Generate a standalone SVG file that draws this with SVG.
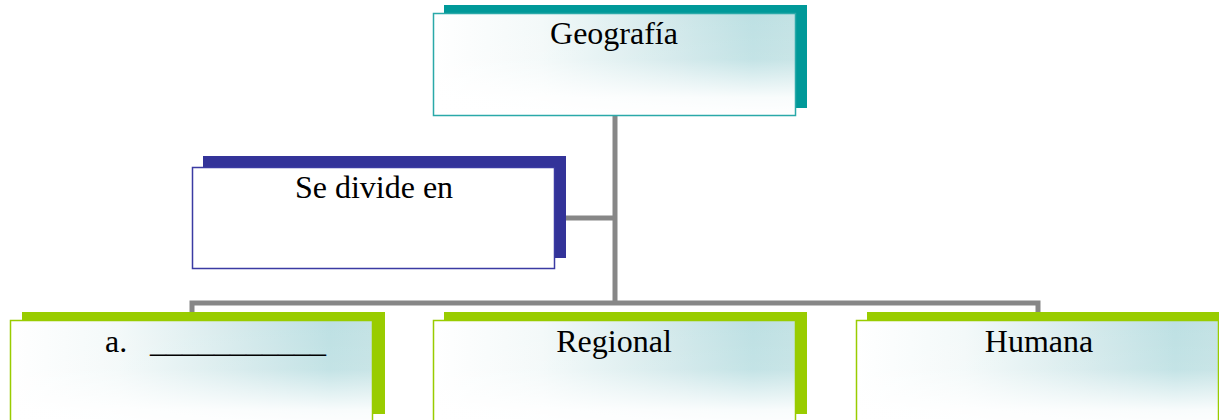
<svg xmlns="http://www.w3.org/2000/svg" width="1219" height="420" viewBox="0 0 1219 420">
<style>
.lbl{font-family:"Liberation Serif","Times New Roman",serif;font-size:32px;fill:#000;}
.conn{stroke:#878787;stroke-width:5;fill:none;}
.frontG{fill:url(#hgrad);}
.fade{fill:url(#vfade);}
</style>
<defs>
<linearGradient id="hgrad" x1="0" y1="0" x2="1" y2="0">
<stop offset="0" stop-color="#ffffff"/>
<stop offset="0.3" stop-color="#f3f9f9"/>
<stop offset="0.65" stop-color="#d3e9eb"/>
<stop offset="0.88" stop-color="#bde0e3"/>
<stop offset="1" stop-color="#c3e2e4"/>
</linearGradient>
<linearGradient id="vfade" x1="0" y1="0" x2="0" y2="1">
<stop offset="0" stop-color="#ffffff" stop-opacity="0"/>
<stop offset="0.45" stop-color="#ffffff" stop-opacity="0.1"/>
<stop offset="0.82" stop-color="#ffffff" stop-opacity="0.9"/>
<stop offset="1" stop-color="#ffffff" stop-opacity="1"/>
</linearGradient>
</defs>
<rect width="1219" height="420" fill="#ffffff"/>
<g id="connectors">
<path class="conn" d="M615 116 V303"/>
<path class="conn" d="M566 218 H615"/>
<path class="conn" d="M192 315 V303 H1038 V315"/>
</g>
<g id="node-geografia">
<rect x="444" y="5" width="363" height="103" fill="#009999"/>
<rect x="433" y="13" width="363" height="103" class="frontG"/>
<rect x="433" y="13" width="363" height="103" class="fade"/>
<rect x="433.5" y="13.5" width="362" height="102" fill="none" stroke="#2aa9a9" stroke-width="1.5"/>
<text class="lbl" x="614" y="44" text-anchor="middle">Geografía</text>
</g>
<g id="node-divide">
<rect x="203" y="156" width="363" height="102" fill="#333399"/>
<rect x="192.5" y="167.5" width="362" height="101" fill="#ffffff" stroke="#3b3ba3" stroke-width="1.5"/>
<text class="lbl" x="374" y="198" text-anchor="middle">Se divide en</text>
</g>
<g id="node-a">
<rect x="22" y="312" width="363" height="102" fill="#99cc00"/>
<rect x="10" y="320" width="363" height="110" class="frontG"/>
<rect x="10" y="320" width="363" height="110" class="fade"/>
<rect x="10.5" y="320.5" width="362" height="110" fill="none" stroke="#99cc00" stroke-width="1.5"/>
<text class="lbl" x="105" y="352">a.</text>
<text class="lbl" x="150" y="352">___________</text>
</g>
<g id="node-regional">
<rect x="444" y="312" width="363" height="102" fill="#99cc00"/>
<rect x="433" y="320" width="363" height="110" class="frontG"/>
<rect x="433" y="320" width="363" height="110" class="fade"/>
<rect x="433.5" y="320.5" width="362" height="110" fill="none" stroke="#99cc00" stroke-width="1.5"/>
<text class="lbl" x="614" y="352" text-anchor="middle">Regional</text>
</g>
<g id="node-humana">
<rect x="867" y="312" width="363" height="102" fill="#99cc00"/>
<rect x="856" y="320" width="363" height="110" class="frontG"/>
<rect x="856" y="320" width="363" height="110" class="fade"/>
<rect x="856.5" y="320.5" width="362" height="110" fill="none" stroke="#99cc00" stroke-width="1.5"/>
<text class="lbl" x="1039" y="352" text-anchor="middle">Humana</text>
</g>
</svg>
